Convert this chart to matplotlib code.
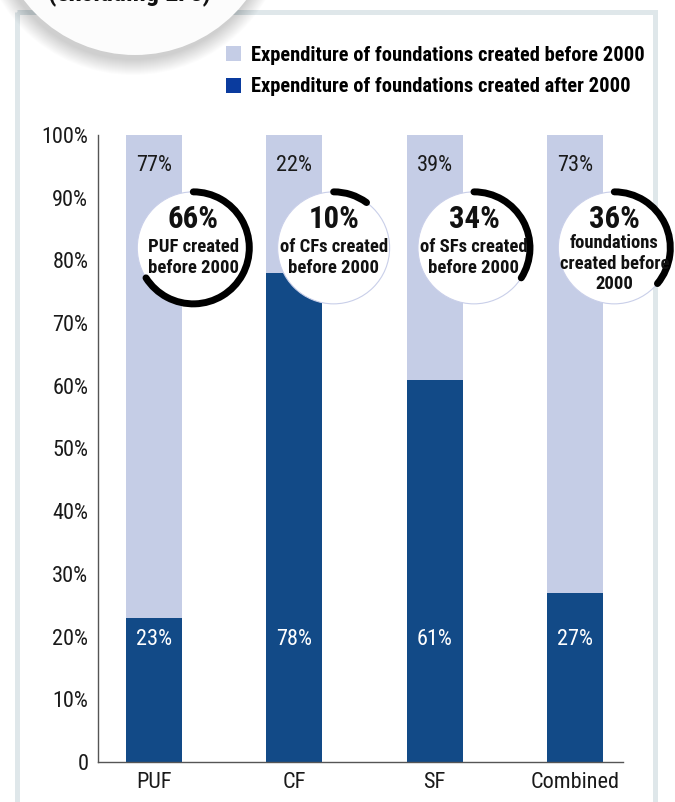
import matplotlib
matplotlib.use("Agg")
import numpy as np
import matplotlib.pyplot as plt
from matplotlib import font_manager, transforms
from matplotlib.patches import Circle, Arc, Rectangle, Patch
from matplotlib.font_manager import FontProperties

# ---- data -------------------------------------------------------------
categories = ["PUF", "CF", "SF", "Combined"]
before_2000 = [77, 22, 39, 73]          # share of expenditure, foundations created before 2000
after_2000 = [23, 78, 61, 27]           # share of expenditure, foundations created after 2000
created_before_pct = [66, 10, 34, 36]   # share of foundations created before 2000
circle_captions = [
    ["PUF created", "before 2000"],
    ["of CFs created", "before 2000"],
    ["of SFs created", "before 2000"],
    ["foundations", "created before", "2000"],
]
y_ticks = [0, 10, 20, 30, 40, 50, 60, 70, 80, 90, 100]
y_tick_labels = ["0", "10%", "20%", "30%", "40%", "50%", "60%", "70%", "80%", "90%", "100%"]
legend_labels = [
    "Expenditure of foundations created before 2000",
    "Expenditure of foundations created after 2000",
]
panel_title = "(excluding EFs)"

# ---- fonts: prefer a narrow sans face when one is available ------------
CONDENSED = {"condensed", "semi-condensed", "extra-condensed", "ultra-condensed"}
preferred = ["Liberation Sans Narrow", "Roboto Condensed", "Noto Sans Condensed",
             "Open Sans Condensed", "Noto Sans", "Roboto", "Open Sans", "DejaVu Sans"]
found = {}
for f in font_manager.fontManager.ttflist:
    nm, st = f.name, str(f.stretch)
    if any(bad in nm for bad in ("Mono", "Serif", "CJK", "Math")):
        continue
    if st in CONDENSED or "Narrow" in nm or "Condensed" in nm:
        found.setdefault(nm, set()).add(st)
face, stretch = "Roboto", "normal"
for nm in preferred:
    if nm in found:
        face = nm
        sts = found[nm]
        stretch = "condensed" if "condensed" in sts else sorted(sts)[0]
        break
else:
    if found:
        face = sorted(found)[0]
        stretch = sorted(found[face])[0]

FAMILY = [face, "DejaVu Sans"]
plt.rcParams["font.family"] = FAMILY
plt.rcParams["font.stretch"] = stretch

LIGHT = "#c5cde6"
DARK = "#124a87"
LEGEND_DARK = "#0a3b9e"
INK = "#111111"

W, H = 675, 802
fig = plt.figure(figsize=(W / 100, H / 100), dpi=100)
renderer = fig.canvas.get_renderer()


def fit_size(text, width_px, weight="normal", cap=None):
    """Font size (pt) at which `text` spans `width_px` pixels."""
    probe = fig.text(0, 0, text, fontsize=20, fontweight=weight,
                     family=FAMILY, fontstretch=stretch)
    w = probe.get_window_extent(renderer).width
    probe.remove()
    size = 20 * width_px / w
    return min(size, cap) if cap else size


tick_fs = fit_size("100%", 48, cap=16)
bar_fs = fit_size("77%", 40, cap=16)
cat_fs = tick_fs
legend_fs = fit_size(legend_labels[0], 393, weight="bold", cap=15)
pct_fs = fit_size("66%", 51, weight="bold", cap=24)
cap_fs = fit_size("of CFs created", 108, weight="bold", cap=15)
title_fs = fit_size(panel_title, 180, weight="bold", cap=19)

# ---- background layer in pixel units (panel frame, title bubble) -------
bg = fig.add_axes([0, 0, 1, 1], zorder=0)
bg.set_xlim(0, W)
bg.set_ylim(H, 0)
bg.axis("off")

bg.add_patch(Rectangle((16.5, 11.5), 638, 900, fill=False,
                       ec="#dfe7ea", lw=3.6))

tc_x, tc_y, tc_r = 135, -85, 140
for k in range(16):
    bg.add_patch(Circle((tc_x - 2, tc_y + 5), tc_r + k, color="black",
                        alpha=0.01, lw=0))
bg.add_patch(Circle((tc_x, tc_y), tc_r, color="#fcfcfc", lw=0))
bg.text(tc_x - 5, 1, panel_title, ha="center", va="baseline",
        fontsize=title_fs, fontweight="bold", color=INK)

# ---- main bar chart -----------------------------------------------------
ax = fig.add_axes([98 / W, 40 / H, (623 - 98) / W, (762 - 135) / H], zorder=1)
ax.patch.set_alpha(0)

x = np.arange(len(categories))
ax.bar(x, after_2000, width=0.4, color=DARK, zorder=2)
ax.bar(x, before_2000, width=0.4, bottom=after_2000, color=LIGHT, zorder=2)

ax.set_xlim(-0.399, 3.342)
ax.set_ylim(0, 100)
ax.set_yticks(y_ticks)
ax.set_yticklabels(y_tick_labels)
ax.set_xticks(x)
ax.set_xticklabels(categories)
ax.tick_params(axis="both", length=0, colors="#1a1a1a")
ax.tick_params(axis="y", pad=7, labelsize=tick_fs)
ax.tick_params(axis="x", pad=7, labelsize=cat_fs)
for side in ("top", "right"):
    ax.spines[side].set_visible(False)
for side in ("left", "bottom"):
    ax.spines[side].set_color("#555555")
    ax.spines[side].set_linewidth(1.0)

for i in x:
    ax.text(i, 95.2, f"{before_2000[i]}%", ha="center", va="center",
            fontsize=bar_fs, color="#1a1a1a", zorder=3)
    ax.text(i, 19.5, f"{after_2000[i]}%", ha="center", va="center",
            fontsize=bar_fs, color="white", zorder=3)

# ---- "created before 2000" bubbles -------------------------------------
bubble_y = 82
bubble_dx = 0.28
r_in = 0.56      # bubble radius, inches
px = 72 / 100    # one pixel in points
for i in x:
    xc = i + bubble_dx
    tr = fig.dpi_scale_trans + transforms.ScaledTranslation(xc, bubble_y, ax.transData)
    ax.add_patch(Circle((0, 0), r_in, transform=tr, facecolor="white",
                        edgecolor="#c9cfe9", lw=0.8, zorder=4, clip_on=False))
    frac = created_before_pct[i] / 100
    arc = Arc((0, 0), 2 * r_in, 2 * r_in, theta1=90 - 360 * frac, theta2=90,
              transform=tr, color="black", lw=5, zorder=5, clip_on=False)
    arc.set_capstyle("round")
    ax.add_patch(arc)
    ax.annotate(f"{created_before_pct[i]}%", xy=(xc, bubble_y),
                xytext=(0, 29 * px), textcoords="offset points",
                ha="center", va="center", fontsize=pct_fs, fontweight="bold",
                color=INK, zorder=6, annotation_clip=False)
    lines = circle_captions[i]
    first = -1 - (len(lines) - 2) * 4
    for j, line in enumerate(lines):
        ax.annotate(line, xy=(xc, bubble_y),
                    xytext=(0, -(first + 20.8 * j) * px), textcoords="offset points",
                    ha="center", va="center", fontsize=cap_fs, fontweight="bold",
                    color=INK, zorder=6, annotation_clip=False)

# ---- legend -------------------------------------------------------------
handles = [Patch(facecolor=LIGHT, edgecolor="none"),
           Patch(facecolor=LEGEND_DARK, edgecolor="none")]
fig.legend(handles, legend_labels, loc="upper left",
           bbox_to_anchor=(226 / W, 1 - 46 / H), frameon=False,
           borderpad=0, borderaxespad=0, handlelength=0.75, handleheight=0.75,
           handletextpad=0.45, labelspacing=0.6,
           prop=FontProperties(family=FAMILY, weight="bold", size=legend_fs,
                               stretch=stretch))

fig.savefig("out.png", dpi=100)
